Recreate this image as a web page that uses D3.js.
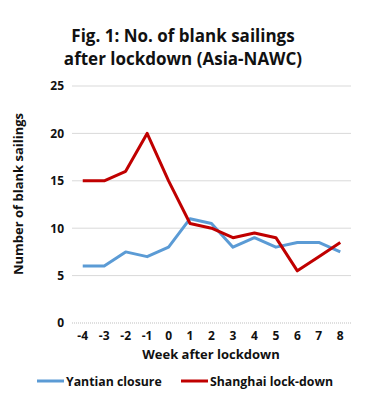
<!DOCTYPE html>
<html>
<head>
<meta charset="utf-8">
<script src="https://cdn.jsdelivr.net/npm/d3@7"></script>
<style>
  body { margin: 0; background: #fff; }
  text { font-family: "Open Sans", "DejaVu Sans", sans-serif; font-weight: bold; fill: #111; }
</style>
</head>
<body>
<script>
//data
var weeks = [-4, -3, -2, -1, 0, 1, 2, 3, 4, 5, 6, 7, 8];
var yantian = [6, 6, 7.5, 7, 8, 11, 10.5, 8, 9, 8, 8.5, 8.5, 7.5];
var shanghai = [15, 15, 16, 20, 15, 10.5, 10, 9, 9.5, 9, 5.5, 7, 8.5];
var yTicks = [0, 5, 10, 15, 20, 25];
var seriesNames = ['Yantian closure', 'Shanghai lock-down'];
var seriesColors = ['#5b9bd5', '#c00000'];

var width = 365, height = 400;
var margin = {left: 72, right: 14, top: 86, bottom: 77};

var svg = d3.select('body').append('svg')
  .attr('width', width).attr('height', height);

//title
svg.append('text').attr('x', 183).attr('y', 42)
  .attr('text-anchor', 'middle').style('font-size', '17px')
  .text('Fig. 1: No. of blank sailings');
svg.append('text').attr('x', 183).attr('y', 65)
  .attr('text-anchor', 'middle').style('font-size', '17px')
  .text('after lockdown (Asia-NAWC)');

var x = d3.scaleBand().domain(weeks)
  .range([margin.left, width - margin.right]);
var y = d3.scaleLinear().domain([0, 25])
  .range([height - margin.bottom, margin.top]);

//grid
svg.append('g').selectAll('line')
  .data(yTicks.filter(function(d) { return d > 0; }))
  .enter().append('line')
  .attr('x1', margin.left).attr('x2', width - margin.right)
  .attr('y1', function(d) { return y(d); }).attr('y2', function(d) { return y(d); })
  .attr('stroke', '#d9d9d9').attr('stroke-width', 1);
svg.append('line')
  .attr('x1', margin.left).attr('x2', width - margin.right)
  .attr('y1', y(0)).attr('y2', y(0))
  .attr('stroke', '#bfbfbf').attr('stroke-width', 1).attr('stroke-dasharray', '1,1');

//axes
var yAxis = svg.append('g')
  .attr('transform', 'translate(' + (margin.left - 8) + ',0)')
  .call(d3.axisLeft(y).tickValues(yTicks).tickSize(0).tickPadding(0));
yAxis.select('.domain').remove();
yAxis.selectAll('text').style('font-size', '12px');

var xAxis = svg.append('g')
  .attr('transform', 'translate(0,' + (y(0) + 4) + ')')
  .call(d3.axisBottom(x).tickSize(0).tickPadding(4));
xAxis.select('.domain').remove();
xAxis.selectAll('text').style('font-size', '12px');

svg.append('text')
  .attr('transform', 'translate(23,194) rotate(-90)')
  .attr('text-anchor', 'middle').style('font-size', '13px')
  .text('Number of blank sailings');
svg.append('text').attr('x', 211).attr('y', 359)
  .attr('text-anchor', 'middle').style('font-size', '13px')
  .text('Week after lockdown');

//lines
var line = d3.line()
  .x(function(d, i) { return x(weeks[i]) + x.bandwidth() / 2; })
  .y(function(d) { return y(d); });

[yantian, shanghai].forEach(function(s, i) {
  svg.append('path').datum(s)
    .attr('d', line)
    .attr('fill', 'none')
    .attr('stroke', seriesColors[i])
    .attr('stroke-width', 3)
    .attr('stroke-linejoin', 'round');
});

//legend
var legendX = [37, 181];
seriesNames.forEach(function(name, i) {
  svg.append('line')
    .attr('x1', legendX[i]).attr('x2', legendX[i] + 27)
    .attr('y1', 381).attr('y2', 381)
    .attr('stroke', seriesColors[i]).attr('stroke-width', 3);
  svg.append('text').attr('x', legendX[i] + 29).attr('y', 386)
    .style('font-size', '12.3px').text(name);
});
</script>
</body>
</html>
